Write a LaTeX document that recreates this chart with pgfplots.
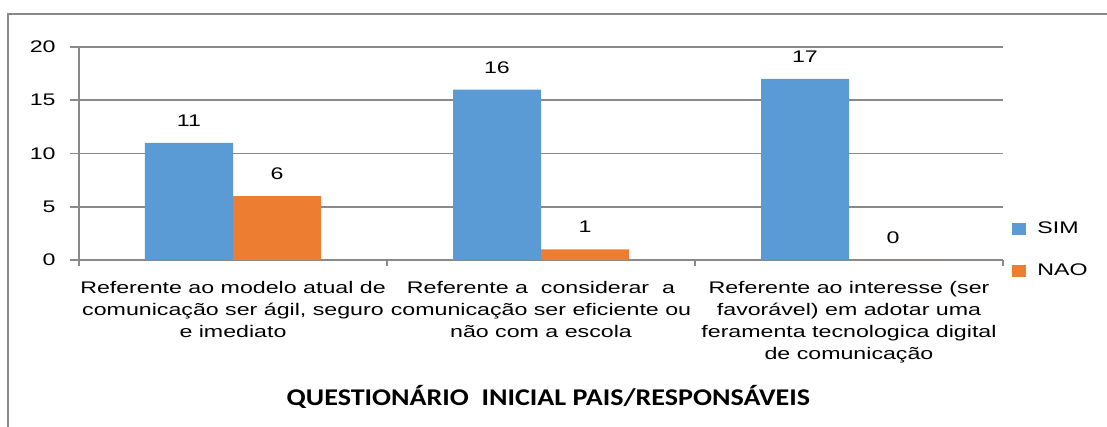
\documentclass[border=0pt]{standalone}
\usepackage{fontspec}
\setmainfont{Liberation Sans}[FakeStretch=1.38]
\newfontfamily\titlefont{Carlito}[FakeStretch=1.17]
\usepackage{pgfplots}
\pgfplotsset{compat=1.18}
\definecolor{simc}{HTML}{5B9BD5}
\definecolor{naoc}{HTML}{ED7D31}
\definecolor{gridc}{HTML}{898989}
\begin{document}
\begin{tikzpicture}
\clip (0,0) rectangle (553.5bp,213.5bp);
\path[use as bounding box] (0,0) rectangle (553.5bp,213.5bp);
\draw[gridc, line width=0.8bp] (4bp,-10bp) -- (4bp,206.5bp) -- (600bp,206.5bp);
\begin{axis}[
  at={(39.5bp,83.5bp)}, anchor=south west,
  width=462bp, height=106.5bp, scale only axis,
  clip=false,
  /pgf/number format/assume math mode=true,
  font=\fontsize{8.4bp}{11bp}\selectfont,
  ybar=0pt, bar width=44bp,
  ymin=0, ymax=20, ytick={0,5,10,15,20},
  xmin=-0.5, xmax=2.5,
  xtick={0,1,2},
  xticklabels={{Referente ao modelo atual de\\comunicação ser ágil, seguro\\e imediato},
               {Referente a \ considerar \ a\\comunicação ser eficiente ou\\não com a escola},
               {Referente ao interesse (ser\\favorável) em adotar uma\\feramenta tecnologica digital\\de comunicação}},
  xticklabel style={align=center, inner sep=0pt, anchor=north, yshift=-6bp, font=\fontsize{8.4bp}{11bp}\selectfont},
  minor xtick={-0.5,0.5,1.5,2.5},
  axis x line*=bottom, axis y line*=left,
  axis line style={gridc, line width=0.8bp, -},
  tick align=outside,
  major x tick style={draw=none},
  minor x tick style={gridc, line width=0.8bp},
  minor tick length=3bp,
  major tick length=4.5bp,
  y tick style={gridc, line width=0.8bp},
  ymajorgrids, grid style={gridc, line width=0.8bp},
  yticklabel style={inner sep=0pt, anchor=east, xshift=-7bp},
  nodes near coords,
  every node near coord/.append style={inner sep=0pt, anchor=south, yshift=8bp, font=\fontsize{8.4bp}{11bp}\selectfont, black},
  legend style={at={(axis description cs:1.0097,0.047)}, anchor=west, draw=none, fill=none,
     font=\fontsize{8.4bp}{11bp}\selectfont, row sep=10bp, inner sep=0pt},
  legend cell align=left,
  legend image code/.code={\fill[#1] (0bp,-3bp) rectangle (7bp,3bp); \path (10.5bp,0bp);},
]
\addplot[fill=simc, draw=none] coordinates {(0,11) (1,16) (2,17)};
\addplot[fill=naoc, draw=none] coordinates {(0,6) (1,1) (2,0)};
\legend{SIM,NAO}
\node[font=\titlefont\bfseries\fontsize{12bp}{14bp}\selectfont] at (axis description cs:0.508,-0.643) {QUESTIONÁRIO \ INICIAL PAIS/RESPONSÁVEIS};
\end{axis}
\end{tikzpicture}
\end{document}
